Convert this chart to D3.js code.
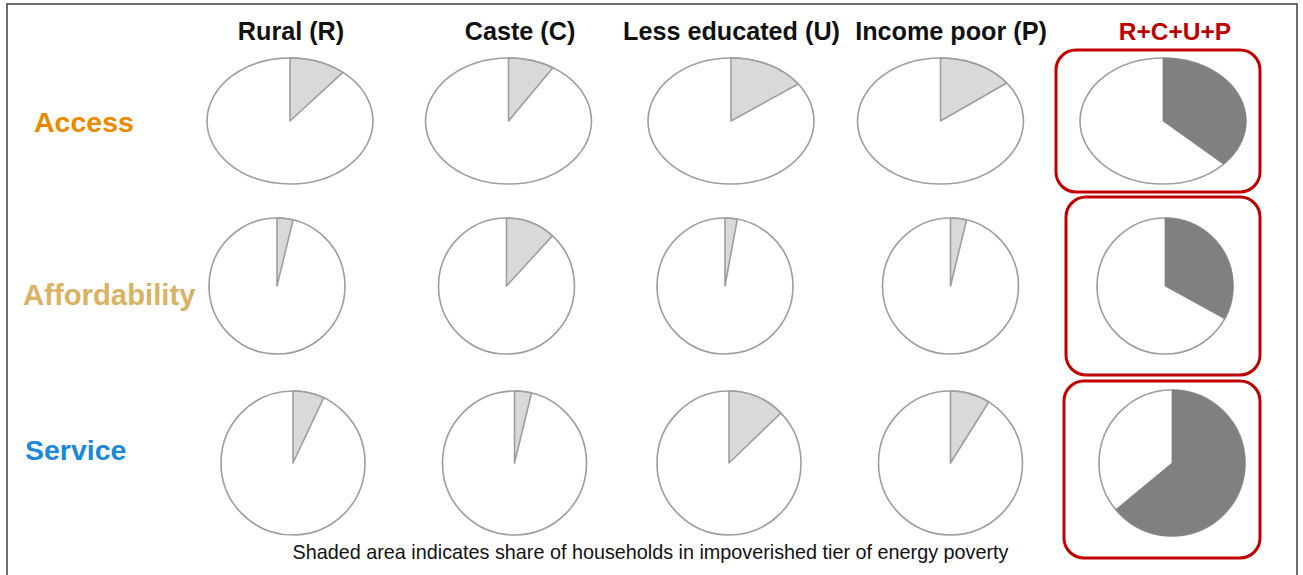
<!DOCTYPE html>
<html>
<head>
<meta charset="utf-8">
<script src="https://cdn.jsdelivr.net/npm/d3@7"></script>
<style>
  html, body { margin: 0; padding: 0; background: #fff; }
  svg { display: block; font-family: "Liberation Sans", Arial, sans-serif; }
</style>
</head>
<body>
<svg id="chart" width="1303" height="575"></svg>
<script>
// Groups (columns) and dimensions (rows)
const groups = ["Rural (R)", "Caste (C)", "Less educated (U)", "Income poor (P)", "R+C+U+P"];
const dimensions = ["Access", "Affordability", "Service"];

// Share of households in the impoverished tier, per group
const accessShare        = [0.11, 0.09, 0.15, 0.147, 0.37];
const affordabilityShare = [0.038, 0.118, 0.029, 0.038, 0.33];
const serviceShare       = [0.07, 0.038, 0.128, 0.089, 0.64];

const caption = "Shaded area indicates share of households in impoverished tier of energy poverty";

// ---- layout & style ----
const svg = d3.select("#chart");

const rowStyle = {
  Access:        { color: "#E98A00", y: 121, rx: 83, ry: 63, dx: [5, 3, 5, -6, -4], size: 28.5 },
  Affordability: { color: "#D9B264", y: 286, rx: 68, ry: 68, dx: [-8, 1, -1, 4, -2], size: 29.3 },
  Service:       { color: "#1C88D8", y: 463, rx: 72, ry: 72, dx: [8, 9, 3, 4, 5], size: 28.5 }
};
const shares = { Access: accessShare, Affordability: affordabilityShare, Service: serviceShare };

// Highlight boxes around the combined group (relative to pie centre)
const boxes = {
  Access:        { x0: -107, x1: 97, y0: -71, y1: 71 },
  Affordability: { x0: -99,  x1: 95, y0: -89, y1: 89 },
  Service:       { x0: -108, x1: 88, y0: -82, y1: 95 }
};

const x = d3.scalePoint().domain(groups).range([285, 1167]);

// outer frame
svg.append("rect")
  .attr("x", 7).attr("y", 4).attr("width", 1290).attr("height", 640)
  .attr("fill", "none").attr("stroke", "#4a4a4a").attr("stroke-width", 1.6);

// column titles
svg.append("g").selectAll("text")
  .data(groups)
  .join("text")
  .attr("x", (d, i) => [291, 520, 731.5, 951, 1175][i])
  .attr("y", 40)
  .attr("text-anchor", "middle")
  .attr("font-weight", "bold")
  .attr("font-size", (d, i) => i === 4 ? 24.5 : 25.2)
  .attr("fill", (d, i) => i === 4 ? "#C00000" : "#111")
  .text(d => d);

// row labels
const labelPos = { Access: [34, 132], Affordability: [23, 305], Service: [25, 460] };
svg.append("g").selectAll("text")
  .data(dimensions)
  .join("text")
  .attr("x", d => labelPos[d][0])
  .attr("y", d => labelPos[d][1])
  .attr("font-weight", "bold")
  .attr("font-size", d => rowStyle[d].size)
  .attr("fill", d => rowStyle[d].color)
  .text(d => d);

const pie = d3.pie().sort(null).value(d => d.v);
const arc = d3.arc().innerRadius(0);

dimensions.forEach(dim => {
  const st = rowStyle[dim];
  groups.forEach((g, i) => {
    const v = shares[dim][i];
    const combined = i === groups.length - 1;
    const cx = x(g) + st.dx[i];
    const cy = st.y;
    let r = st.rx;
    if (combined && dim === "Service") r = 73;
    const sy = st.ry / st.rx;

    if (combined) {
      const b = boxes[dim];
      svg.append("rect")
        .attr("x", cx + b.x0).attr("y", cy + b.y0)
        .attr("width", b.x1 - b.x0).attr("height", b.y1 - b.y0)
        .attr("rx", 20).attr("ry", 20)
        .attr("fill", "none").attr("stroke", "#C00000").attr("stroke-width", 3);
    }

    const gp = svg.append("g")
      .attr("transform", `translate(${cx},${cy}) scale(1,${sy})`);
    const slices = pie([{ k: "tier", v: v }, { k: "rest", v: 1 - v }]);
    arc.outerRadius(r);

    // full outline
    gp.append("circle")
      .attr("r", r)
      .attr("fill", "#fff")
      .attr("stroke", "#9e9e9e")
      .attr("stroke-width", 1.6)
      .attr("vector-effect", "non-scaling-stroke");

    // shaded share
    gp.append("path")
      .attr("d", arc(slices[0]))
      .attr("fill", combined ? "#808080" : "#D9D9D9")
      .attr("stroke", combined ? "#808080" : "#9e9e9e")
      .attr("stroke-width", combined ? 0.8 : 1.6)
      .attr("stroke-linejoin", "round")
      .attr("vector-effect", "non-scaling-stroke");
  });
});

// caption
svg.append("text")
  .attr("x", 650.5).attr("y", 559)
  .attr("text-anchor", "middle")
  .attr("font-size", 19.8)
  .attr("fill", "#111")
  .text(caption);
</script>
</body>
</html>
